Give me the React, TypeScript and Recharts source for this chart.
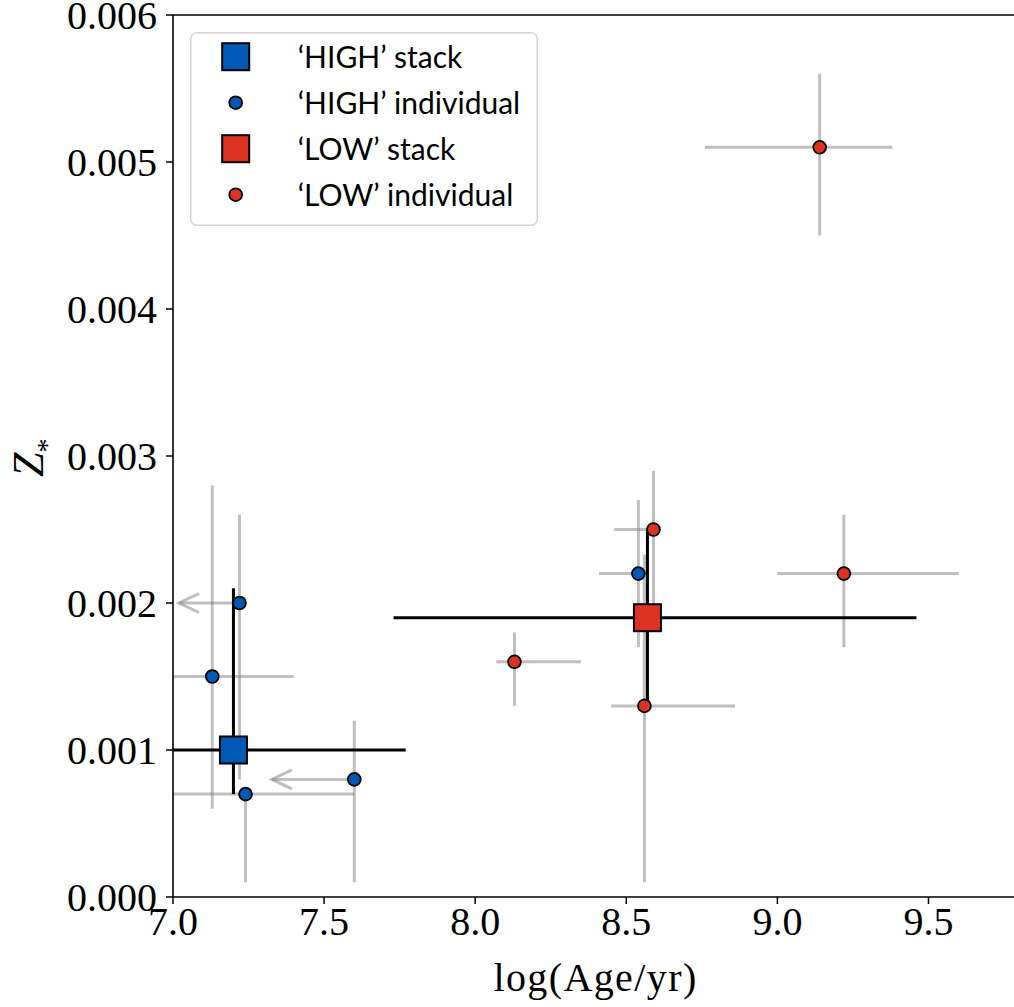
import React from 'react';
import { ScatterChart, Scatter, XAxis, YAxis, ReferenceLine, Legend } from 'recharts';

const BLUE = '#005AB5';
const RED = '#DC3220';
const GRAY = '#808080';

// 'HIGH' stack
const highStackX = [7.2];
const highStackY = [0.001];
const highStackXLo = [6.63];
const highStackXHi = [7.77];
const highStackYLo = [0.0007];
const highStackYHi = [0.0021];

// 'HIGH' individual
const highIndX = [7.22, 7.13, 7.24, 7.6, 8.54];
const highIndY = [0.002, 0.0015, 0.0007, 0.0008, 0.0022];
const highIndXLo = [7.02, 6.86, 6.88, 7.327, 8.41];
const highIndXHi = [7.22, 7.4, 7.6, 7.6, 8.57];
const highIndYLo = [0.0008, 0.0006, 0.0001, 0.0001, 0.0017];
const highIndYHi = [0.0026, 0.0028, 0.0007, 0.0012, 0.0027];
const highIndXUpperLimit = [true, false, false, true, false];

// 'LOW' stack
const lowStackX = [8.57];
const lowStackY = [0.0019];
const lowStackXLo = [7.73];
const lowStackXHi = [9.46];
const lowStackYLo = [0.0013];
const lowStackYHi = [0.0025];

// 'LOW' individual
const lowIndX = [8.13, 8.59, 8.56, 9.14, 9.22];
const lowIndY = [0.0016, 0.0025, 0.0013, 0.0051, 0.0022];
const lowIndXLo = [8.07, 8.46, 8.45, 8.76, 9.0];
const lowIndXHi = [8.35, 8.59, 8.86, 9.38, 9.6];
const lowIndYLo = [0.0013, 0.002, 0.0001, 0.0045, 0.0017];
const lowIndYHi = [0.0018, 0.0029, 0.00233, 0.0056, 0.0026];
const lowIndXUpperLimit = [false, false, false, false, false];

const xTicks = [7.0, 7.5, 8.0, 8.5, 9.0, 9.5];
const yTicks = [0, 0.001, 0.002, 0.003, 0.004, 0.005, 0.006];
const xDomain = [7.0, 9.783];
const yDomain = [0, 0.006];

const legendLabels = ['\u2018HIGH\u2019 stack', '\u2018HIGH\u2019 individual', '\u2018LOW\u2019 stack', '\u2018LOW\u2019 individual'];
const legendColors = [BLUE, BLUE, RED, RED];
const legendKinds = ['square', 'circle', 'square', 'circle'];

const SERIF = '"Liberation Serif", "Times New Roman", serif';
const SANS = 'Lato, "Noto Sans", sans-serif';

type Seg = { key: string; seg: { x: number; y: number }[]; arrow: boolean };

function buildSegments(
  prefix: string,
  xs: number[], ys: number[],
  xlo: number[], xhi: number[], ylo: number[], yhi: number[],
  uplim: boolean[]
): Seg[] {
  const out: Seg[] = [];
  xs.forEach((x, i) => {
    const y = ys[i];
    if (uplim[i]) {
      out.push({ key: `${prefix}-xa-${i}`, seg: [{ x, y }, { x: xlo[i], y }], arrow: true });
    } else {
      out.push({ key: `${prefix}-x-${i}`, seg: [{ x: xlo[i], y }, { x: xhi[i], y }], arrow: false });
    }
    out.push({ key: `${prefix}-y-${i}`, seg: [{ x, y: ylo[i] }, { x, y: yhi[i] }], arrow: false });
  });
  return out;
}

const toPoints = (xs: number[], ys: number[]) => xs.map((x, i) => ({ x, y: ys[i] }));

const ArrowLine = (props: any) => {
  const { x1, y1, x2, y2, stroke, strokeWidth, strokeOpacity, clipPath } = props;
  const dx = x1 - x2;
  const dy = y1 - y2;
  const len = Math.sqrt(dx * dx + dy * dy) || 1;
  const ux = dx / len;
  const uy = dy / len;
  const nx = -uy;
  const ny = ux;
  const L = 20;
  const W = 9.5;
  const p1 = `${x2 + ux * L + nx * W},${y2 + uy * L + ny * W}`;
  const p2 = `${x2},${y2}`;
  const p3 = `${x2 + ux * L - nx * W},${y2 + uy * L - ny * W}`;
  return (
    <g clipPath={clipPath}>
      <line x1={x1} y1={y1} x2={x2} y2={y2} stroke={stroke} strokeWidth={strokeWidth} strokeOpacity={strokeOpacity} />
      <polyline points={`${p1} ${p2} ${p3}`} fill="none" stroke={stroke} strokeWidth={strokeWidth} strokeOpacity={strokeOpacity} />
    </g>
  );
};

const makeCircle = (color: string) => (props: any) => {
  const { cx, cy } = props;
  return <circle cx={cx} cy={cy} r={6.4} fill={color} stroke="#000" strokeWidth={1.8} />;
};

const makeSquare = (color: string) => (props: any) => {
  const { cx, cy } = props;
  const s = 27;
  return <rect x={cx - s / 2} y={cy - s / 2} width={s} height={s} fill={color} stroke="#000" strokeWidth={2} />;
};

const LegendBox = () => (
  <svg width={348} height={194} style={{ display: 'block' }}>
    <rect x={0.75} y={0.75} width={346.5} height={192.5} rx={6} ry={6} fill="#fff" fillOpacity={0.8} stroke="#d4d4d4" strokeWidth={1.5} />
    {legendLabels.map((lab, i) => {
      const cy = 24.7 + i * 46;
      const cx = 45.7;
      return (
        <g key={lab}>
          {legendKinds[i] === 'square' ? (
            <rect x={cx - 13.5} y={cy - 13.5} width={27} height={27} fill={legendColors[i]} stroke="#000" strokeWidth={2} />
          ) : (
            <circle cx={cx} cy={cy} r={6.4} fill={legendColors[i]} stroke="#000" strokeWidth={1.8} />
          )}
          <text x={107.7} y={cy + 11.6} fontFamily={SANS} fontSize={30} fill="#000">{lab}</text>
        </g>
      );
    })}
  </svg>
);

const YLabel = (props: any) => {
  const vb = props.viewBox || { x: 0, y: 15, width: 165, height: 882 };
  const bx = vb.x + 43;
  const by = vb.y + vb.height / 2 + 21;
  return (
    <text x={bx} y={by} transform={`rotate(-90 ${bx} ${by})`} fontFamily={SERIF} fontSize={44} fill="#000">
      <tspan fontStyle="italic">Z</tspan>
      <tspan fontSize={28} dy={13}>*</tspan>
    </text>
  );
};

const XLabel = (props: any) => {
  const vb = props.viewBox || { x: 173, y: 897, width: 841, height: 110 };
  return (
    <text x={vb.x + vb.width / 2 + 2} y={vb.y + 94} textAnchor="middle" fontFamily={SERIF} fontSize={40} letterSpacing={1.4} fill="#000">
      log(Age/yr)
    </text>
  );
};

export default function App() {
  const graySegs = [
    ...buildSegments('hi', highIndX, highIndY, highIndXLo, highIndXHi, highIndYLo, highIndYHi, highIndXUpperLimit),
    ...buildSegments('lo', lowIndX, lowIndY, lowIndXLo, lowIndXHi, lowIndYLo, lowIndYHi, lowIndXUpperLimit),
  ];
  const blackSegs = [
    ...buildSegments('hs', highStackX, highStackY, highStackXLo, highStackXHi, highStackYLo, highStackYHi, [false]),
    ...buildSegments('ls', lowStackX, lowStackY, lowStackXLo, lowStackXHi, lowStackYLo, lowStackYHi, [false]),
  ];

  return (
    <div style={{ position: 'absolute', left: 0, top: 0, width: 1014, height: 1007, background: '#fff' }}>
      <ScatterChart width={1014} height={1007} margin={{ top: 15, right: 0, bottom: 0, left: 0 }}>
        <XAxis
          type="number"
          dataKey="x"
          domain={xDomain}
          allowDataOverflow
          ticks={xTicks}
          tickFormatter={(v: number) => v.toFixed(1)}
          height={110}
          tickSize={7}
          tickMargin={3}
          axisLine={{ stroke: '#000', strokeWidth: 1.6 }}
          tickLine={{ stroke: '#000', strokeWidth: 1.5 }}
          tick={{ fontFamily: SERIF, fontSize: 40, fill: '#000' }}
          interval={0}
          label={<XLabel />}
        />
        <YAxis
          type="number"
          dataKey="y"
          domain={yDomain}
          allowDataOverflow
          ticks={yTicks}
          tickFormatter={(v: number) => v.toFixed(3)}
          width={173}
          tickSize={7}
          tickMargin={9}
          axisLine={{ stroke: '#000', strokeWidth: 1.6 }}
          tickLine={{ stroke: '#000', strokeWidth: 1.5 }}
          tick={{ fontFamily: SERIF, fontSize: 40, fill: '#000' }}
          interval={0}
          label={<YLabel />}
        />
        <ReferenceLine y={0.006} stroke="#000" strokeWidth={1.6} ifOverflow="visible" />
        {graySegs.map((s) => (
          <ReferenceLine
            key={s.key}
            segment={s.seg}
            stroke={GRAY}
            strokeOpacity={0.5}
            strokeWidth={3}
            ifOverflow="hidden"
            shape={s.arrow ? ArrowLine : undefined}
          />
        ))}
        {blackSegs.map((s) => (
          <ReferenceLine key={s.key} segment={s.seg} stroke="#000" strokeWidth={3} ifOverflow="hidden" />
        ))}
        <Scatter name="'HIGH' stack" data={toPoints(highStackX, highStackY)} shape={makeSquare(BLUE)} isAnimationActive={false} />
        <Scatter name="'HIGH' individual" data={toPoints(highIndX, highIndY)} shape={makeCircle(BLUE)} isAnimationActive={false} />
        <Scatter name="'LOW' stack" data={toPoints(lowStackX, lowStackY)} shape={makeSquare(RED)} isAnimationActive={false} />
        <Scatter name="'LOW' individual" data={toPoints(lowIndX, lowIndY)} shape={makeCircle(RED)} isAnimationActive={false} />
        <Legend
          layout="vertical"
          align="center"
          verticalAlign="middle"
          content={() => <LegendBox />}
          wrapperStyle={{ left: 190, top: 32, width: 348, height: 194, right: 'auto', bottom: 'auto' }}
        />
      </ScatterChart>
    </div>
  );
}
